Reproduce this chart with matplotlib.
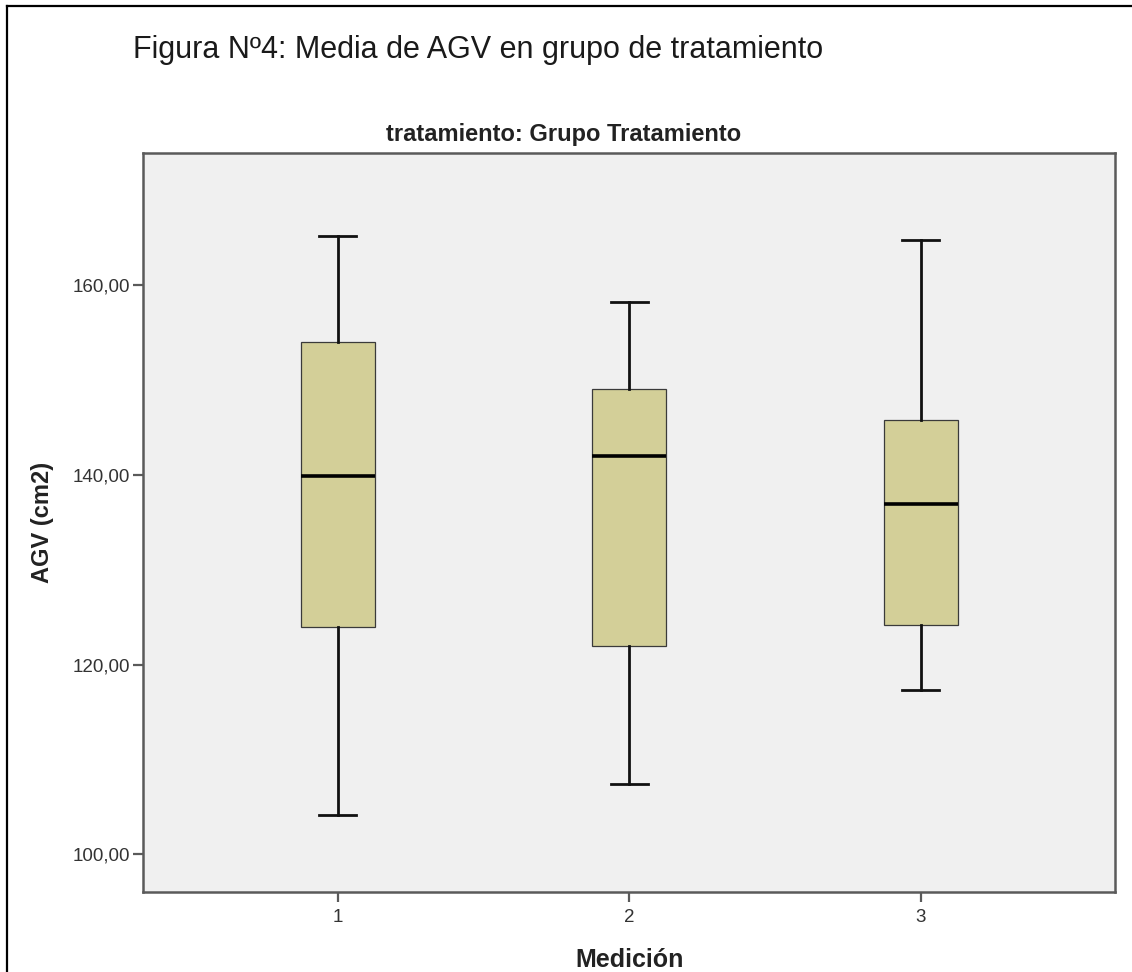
import matplotlib.pyplot as plt
from matplotlib.lines import Line2D

# box summaries (SPSS boxplot)
mediciones = [1, 2, 3]
whisker_lo = [104.1, 107.4, 117.3]
q1 = [124.0, 122.0, 124.2]
medians = [139.9, 142.0, 136.9]
q3 = [154.0, 149.0, 145.8]
whisker_hi = [165.2, 158.2, 164.7]
yticks = [100, 120, 140, 160]

W, H = 1132, 972
plt.rcParams['font.family'] = ['Liberation Sans', 'DejaVu Sans']

fig = plt.figure(figsize=(W / 100, H / 100), dpi=100)
fig.patch.set_facecolor('white')

# axes box in pixels: x 143..1115, y 153..892
ax = fig.add_axes([143 / W, 1 - 892 / H, (1115 - 143) / W, (892 - 153) / H])
ax.set_facecolor('#f0f0f0')

stats = []
for i in range(len(mediciones)):
    stats.append(dict(whislo=whisker_lo[i], q1=q1[i], med=medians[i],
                      q3=q3[i], whishi=whisker_hi[i], fliers=[]))

ax.bxp(stats, positions=mediciones, widths=0.254, patch_artist=True,
       showfliers=False,
       boxprops=dict(facecolor='#d3cf98', edgecolor='#3a3a3a', linewidth=0.9),
       whiskerprops=dict(color='#111111', linewidth=2.0),
       capprops=dict(color='#111111', linewidth=2.0),
       medianprops=dict(color='#000000', linewidth=2.6))

ax.set_xlim(0.331, 3.666)
ax.set_ylim(96.03, 173.9)
ax.set_xticks(mediciones)
ax.set_xticklabels([str(m) for m in mediciones])
ax.set_yticks(yticks)
ax.set_yticklabels([f"{v:.2f}".replace('.', ',') for v in yticks])

for s in ax.spines.values():
    s.set_color('#5a5a5a')
    s.set_linewidth(1.8)
ax.tick_params(axis='both', colors='#5a5a5a', width=1.6, length=7,
               labelcolor='#333333', labelsize=13.5)
ax.tick_params(axis='y', pad=2)
ax.tick_params(axis='x', pad=5)

# titles and axis labels
fig.text(133 / W, 1 - 58 / H, 'Figura Nº4: Media de AGV en grupo de tratamiento',
         fontsize=22, color='#1a1a1a', ha='left', va='baseline')
fig.text(563.5 / W, 1 - 141 / H, 'tratamiento: Grupo Tratamiento',
         fontsize=17, fontweight='bold', color='#222222', ha='center', va='baseline')
fig.text(630 / W, 1 - 967 / H, 'Medición', fontsize=18, fontweight='bold',
         color='#222222', ha='center', va='baseline')
fig.text(42 / W, 1 - 522 / H, 'AGV (cm2)', fontsize=17, fontweight='bold',
         color='#222222', ha='center', va='center', rotation=90)

# frame lines at top and left of the picture
fig.add_artist(Line2D([7 / W, 1], [1 - 6 / H, 1 - 6 / H], color='black', linewidth=1.6))
fig.add_artist(Line2D([7 / W, 7 / W], [0, 1 - 6 / H], color='black', linewidth=1.6))

fig.savefig('out.png', dpi=100)
